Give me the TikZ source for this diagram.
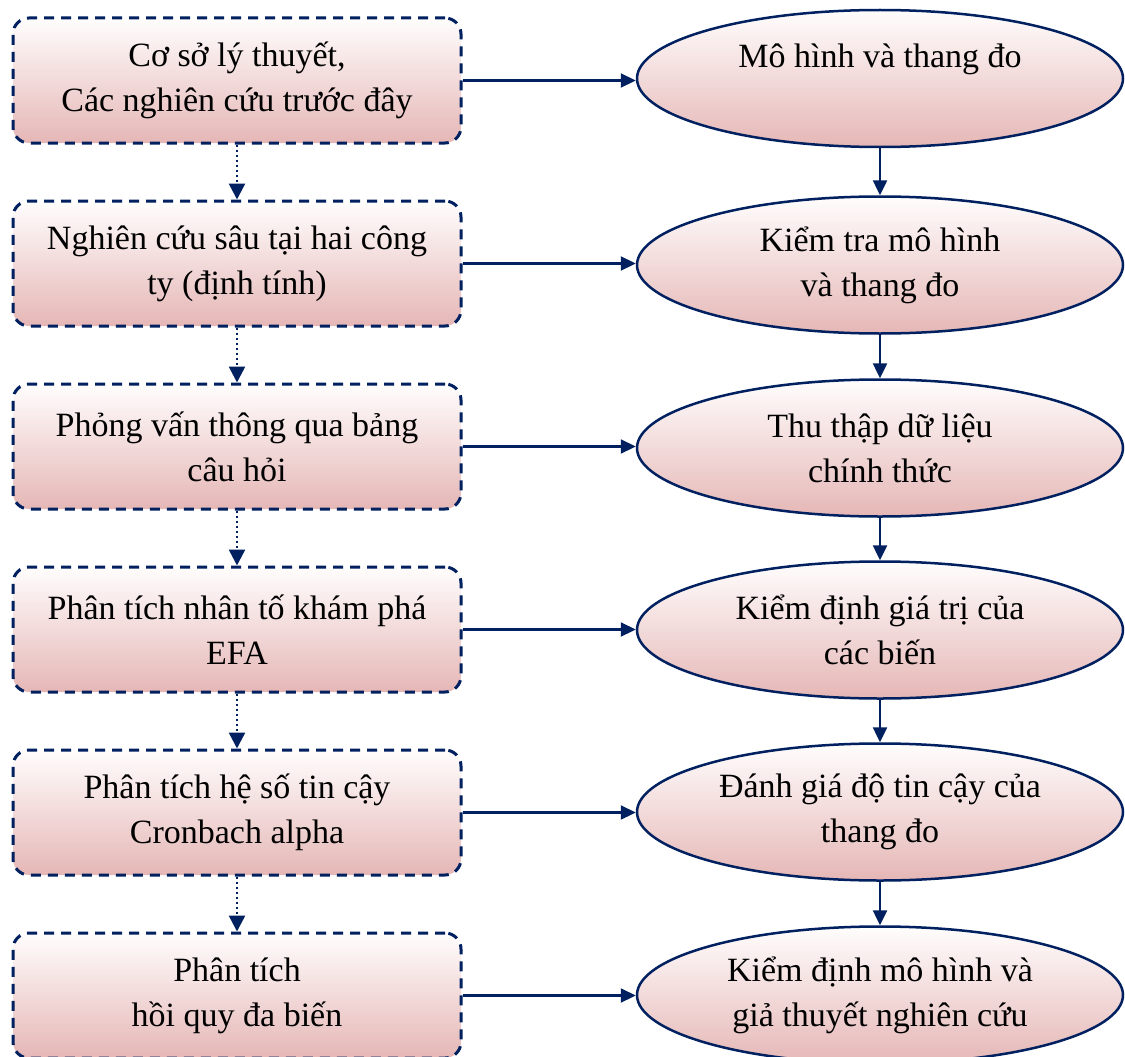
\documentclass[tikz,border=0pt]{standalone}
\usepackage{fontspec}
\setmainfont{Liberation Serif}
\usetikzlibrary{shapes.geometric,arrows.meta}
\definecolor{navy}{RGB}{0,32,96}
\definecolor{pinkbot}{RGB}{229,183,182}
\definecolor{pinktop}{RGB}{255,253,253}
\tikzset{
  stepbox/.style={draw=navy, line width=3pt, dash pattern=on 10pt off 7pt,
    rounded corners=16pt, top color=pinktop, bottom color=pinkbot,
    minimum width=448pt, minimum height=125pt, inner sep=0pt,
    align=center, font=\fontsize{34}{45}\selectfont},
  stepell/.style={ellipse, draw=navy, line width=2.5pt,
    top color=pinktop, bottom color=pinkbot,
    minimum width=486pt, minimum height=137pt, inner sep=0pt,
    align=center, font=\fontsize{34}{45}\selectfont},
  harrow/.style={draw=navy, line width=2.2pt, -{Triangle[length=15pt,width=14pt]}},
  varrow/.style={draw=navy, line width=2.5pt, -{Triangle[length=15pt,width=14pt]}},
  dotarrow/.style={draw=navy, line width=2.5pt, dash pattern=on 2.5pt off 2.5pt,
    -{Triangle[length=16pt,width=16pt]}},
}
\begin{document}
\begin{tikzpicture}[x=1pt,y=-1pt]
\useasboundingbox (0,0) rectangle (1125,1057);
% left boxes
\node[stepbox] (b1) at (237,80.5) {Cơ sở lý thuyết,\\Các nghiên cứu trước đây};
\node[stepbox] (b2) at (237,263.5) {Nghiên cứu sâu tại hai công\\ty (định tính)};
\node[stepbox] (b3) at (237,446.5) {Phỏng vấn thông qua bảng\\câu hỏi};
\node[stepbox] (b4) at (237,629.5) {Phân tích nhân tố khám phá\\EFA};
\node[stepbox] (b5) at (237,812.5) {Phân tích hệ số tin cậy\\Cronbach alpha};
\node[stepbox] (b6) at (237,995.5) {Phân tích\\hồi quy đa biến};
% right ellipses
\node[stepell] (e1) at (880,78.5) {Mô hình và thang đo\\\phantom{x}};
\node[stepell] (e2) at (880,265) {Kiểm tra mô hình\\và thang đo};
\node[stepell] (e3) at (880,448) {Thu thập dữ liệu\\chính thức};
\node[stepell] (e4) at (880,630) {Kiểm định giá trị của\\các biến};
\node[stepell] (e5) at (880,812) {Đánh giá độ tin cậy của\\thang đo};
\node[stepell] (e6) at (880,995) {Kiểm định mô hình và\\giả thuyết nghiên cứu};
% dotted arrows
\foreach \a/\b in {b1/b2,b2/b3,b3/b4,b4/b5,b5/b6}
  \draw[dotarrow] (\a.south) -- (\b.north);
% vertical solid arrows
\foreach \a/\b in {e1/e2,e2/e3,e3/e4,e4/e5,e5/e6}
  \draw[varrow] (\a.south) -- (\b.north);
% horizontal arrows
\foreach \a/\b in {b1/e1,b2/e2,b3/e3,b4/e4,b5/e5,b6/e6}
  \draw[harrow] (\a.east) -- (\a.east -| \b.west);
\end{tikzpicture}
\end{document}
